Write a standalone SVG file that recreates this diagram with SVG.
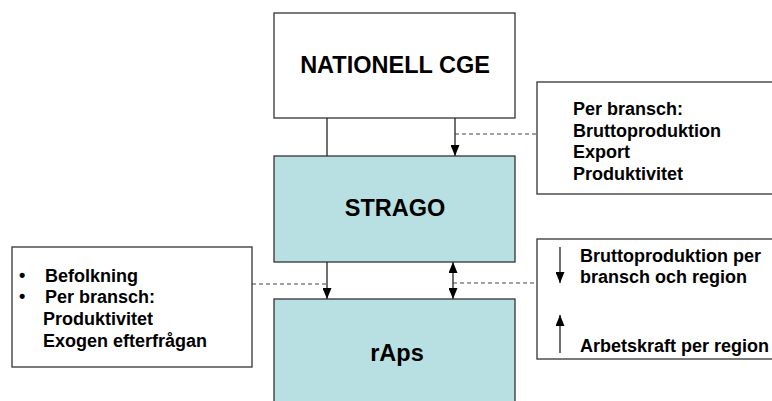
<svg xmlns="http://www.w3.org/2000/svg" width="772" height="401" viewBox="0 0 772 401">
<style>
.box{fill:#ffffff;stroke:#333333;stroke-width:1.3}
.teal{fill:#b8dfe2;stroke:#333333;stroke-width:1.3}
.title{font-family:"Liberation Sans",Arial,sans-serif;font-weight:bold;font-size:23.5px;fill:#000000;text-anchor:middle}
.lbl{font-family:"Liberation Sans",Arial,sans-serif;font-weight:bold;font-size:18px;fill:#000000}
.bul{font-family:"Liberation Sans",Arial,sans-serif;font-weight:bold;font-size:18px;fill:#000000}
.ln{stroke:#222222;stroke-width:1.3;fill:none}
.dash{stroke:#444444;stroke-width:1.2;stroke-dasharray:4,3;fill:none}
</style>
<defs>
<marker id="ah" markerWidth="12" markerHeight="9" refX="11" refY="4.5" orient="auto" markerUnits="userSpaceOnUse">
<path d="M0,0 L11,4.5 L0,9 Z" fill="#000000"/>
</marker>
<marker id="ahs" markerWidth="12" markerHeight="9" refX="0" refY="4.5" orient="auto" markerUnits="userSpaceOnUse">
<path d="M11,0 L0,4.5 L11,9 Z" fill="#000000"/>
</marker>
</defs>
<rect width="772" height="401" fill="#ffffff"/>
<g id="connectors">
<line class="ln" x1="327" y1="118" x2="327" y2="156"/>
<line class="ln" x1="455" y1="118" x2="455" y2="156" marker-end="url(#ah)"/>
<line class="dash" x1="455" y1="134" x2="537" y2="134"/>
<line class="ln" x1="327" y1="262" x2="327" y2="299" marker-end="url(#ah)"/>
<line class="ln" x1="453" y1="262" x2="453" y2="299" marker-start="url(#ahs)" marker-end="url(#ah)"/>
<line class="dash" x1="252" y1="284" x2="327" y2="284"/>
<line class="dash" x1="453" y1="283" x2="537" y2="283"/>
</g>
<g id="nationell">
<rect class="box" x="274" y="13" width="241" height="105"/>
<text class="title" x="395" y="73">NATIONELL CGE</text>
</g>
<g id="strago">
<rect class="teal" x="274" y="156" width="241" height="106"/>
<text class="title" x="395" y="216">STRAGO</text>
</g>
<g id="raps">
<rect class="teal" x="274" y="299" width="241" height="110"/>
<text class="title" x="397" y="361">rAps</text>
</g>
<g id="note-top">
<rect class="box" x="537" y="82" width="245" height="112"/>
<text class="lbl" x="573" y="115">Per bransch:</text>
<text class="lbl" x="573" y="137">Bruttoproduktion</text>
<text class="lbl" x="573" y="158">Export</text>
<text class="lbl" x="573" y="180">Produktivitet</text>
</g>
<g id="note-left">
<rect class="box" x="12" y="247" width="240" height="120"/>
<text class="bul" x="19" y="281">•</text>
<text class="lbl" x="45" y="282">Befolkning</text>
<text class="bul" x="19" y="302">•</text>
<text class="lbl" x="45" y="303">Per bransch:</text>
<text class="lbl" x="43" y="325">Produktivitet</text>
<text class="lbl" x="43" y="347">Exogen efterfrågan</text>
</g>
<g id="note-bottom">
<rect class="box" x="537" y="239" width="245" height="120"/>
<line class="ln" x1="560" y1="247" x2="560" y2="283" marker-end="url(#ah)"/>
<line class="ln" x1="560" y1="353" x2="560" y2="315" marker-end="url(#ah)"/>
<text class="lbl" x="580" y="262">Bruttoproduktion per</text>
<text class="lbl" x="580" y="283">bransch och region</text>
<text class="lbl" x="580" y="352">Arbetskraft per region</text>
</g>
</svg>
